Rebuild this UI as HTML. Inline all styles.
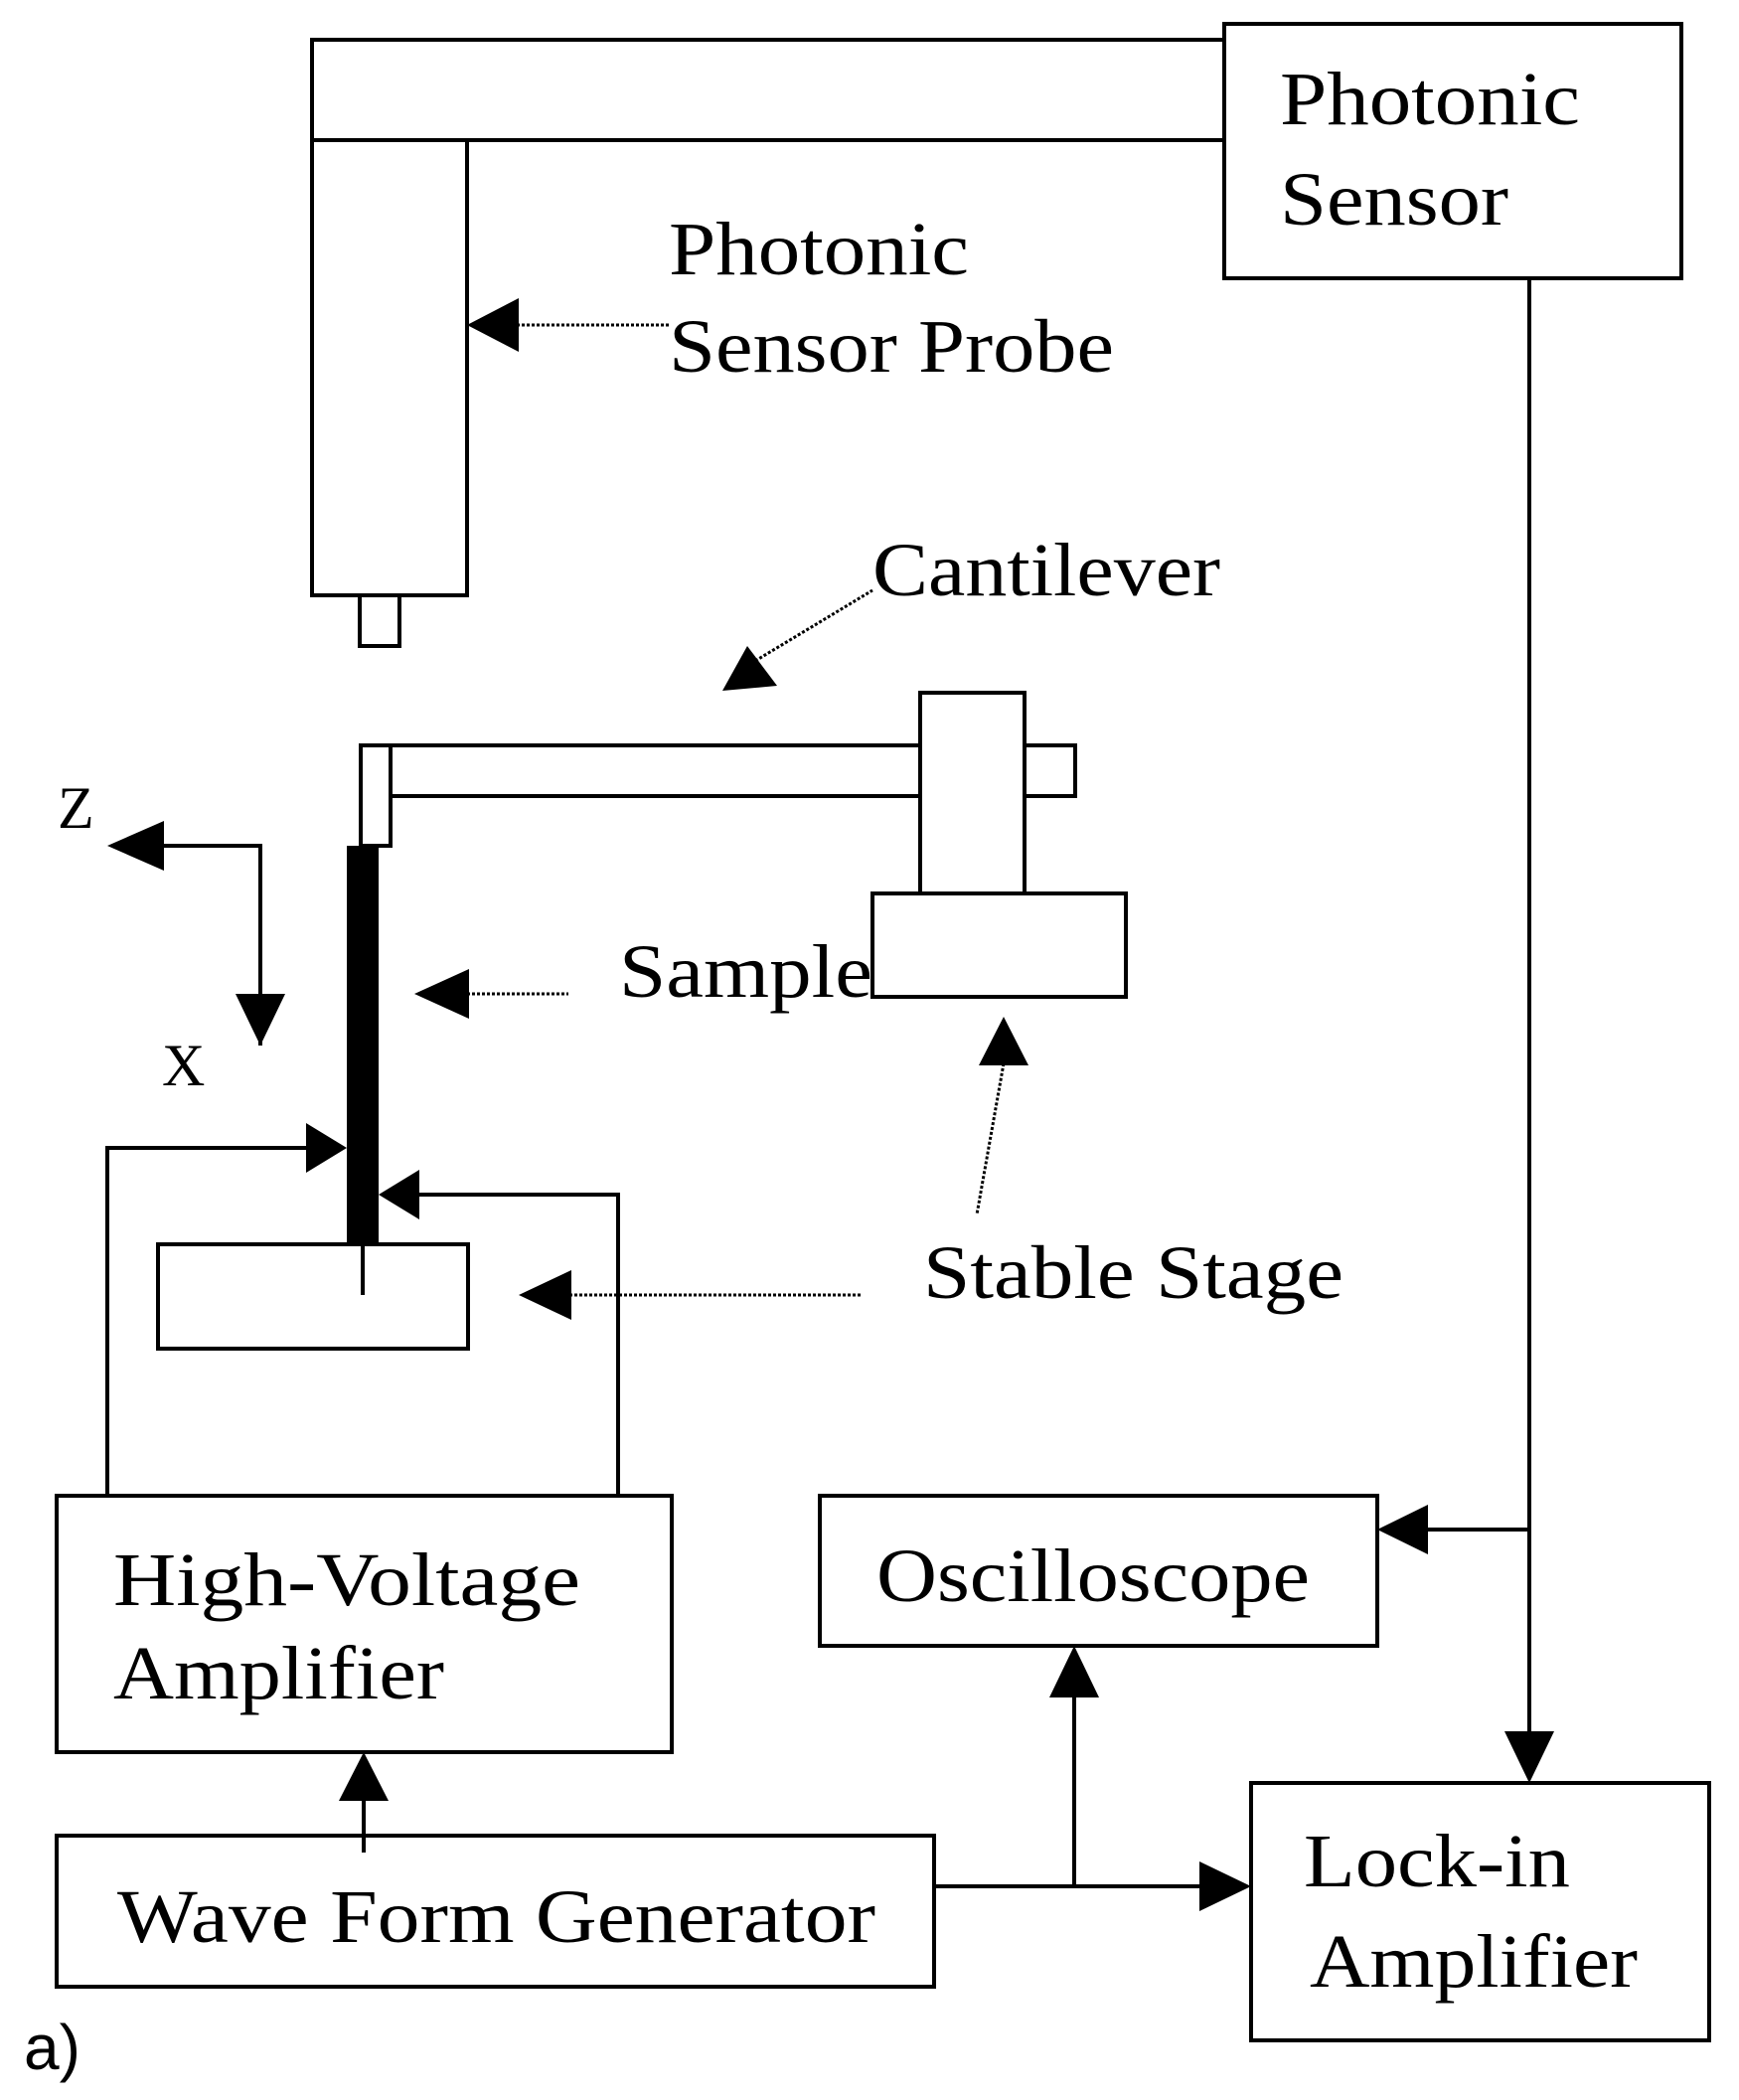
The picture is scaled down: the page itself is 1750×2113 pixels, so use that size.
<!DOCTYPE html>
<html><head><meta charset="utf-8"><style>html,body{margin:0;padding:0;background:#fff}svg{display:block}</style></head>
<body>
<svg width="1750" height="2113" viewBox="0 0 1750 2113" xmlns="http://www.w3.org/2000/svg">
<defs>
<marker id="a" viewBox="0 0 10 10" refX="10" refY="5" markerWidth="10" markerHeight="10" markerUnits="userSpaceOnUse" orient="auto"><path d="M0,0 L10,5 L0,10 z" fill="#000"/></marker>
</defs>
<g fill="none" stroke="#000" stroke-width="4">
<rect x="314" y="40" width="918" height="101"/>
<rect x="1232" y="24" width="460" height="256" fill="#fff"/>
<rect x="314" y="141" width="156" height="458"/>
<rect x="362" y="599" width="40" height="51"/>
<rect x="363" y="750" width="30" height="101"/>
<rect x="393" y="750" width="533" height="51"/>
<rect x="926" y="697" width="105" height="202"/>
<rect x="1031" y="750" width="51" height="51"/>
<rect x="878" y="899" width="255" height="104"/>
<rect x="159" y="1252" width="312" height="105"/>
<rect x="57" y="1505" width="619" height="258"/>
<rect x="57" y="1847" width="883" height="152"/>
<rect x="825" y="1505" width="561" height="151"/>
<rect x="1259" y="1794" width="461" height="259"/>
</g>
<rect x="349" y="851" width="32" height="401" fill="#000"/>
<line x1="365" y1="1252" x2="365" y2="1303" stroke="#000" stroke-width="4"/>
<g fill="#000">
<!-- probe arrow -->
<path d="M470,327 L522,300 L522,354 z"/>
<!-- cantilever arrow -->
<path d="M727,695 L752,650 L782,690 z"/>
<!-- sample arrow -->
<path d="M417,1000 L472,975 L472,1025 z"/>
<!-- stable stage arrows -->
<path d="M1010,1023 L985,1072 L1035,1072 z"/>
<path d="M522,1303 L575,1278 L575,1328 z"/>
<!-- Z X -->
<path d="M108,851 L165,826 L165,876 z"/>
<path d="M262,1052 L237,1000 L287,1000 z"/>
<!-- sample side arrows -->
<path d="M349,1155 L308,1130 L308,1180 z"/>
<path d="M381,1202 L422,1177 L422,1227 z"/>
<!-- wave -> HV -->
<path d="M366,1763 L341,1812 L391,1812 z"/>
<!-- osc -->
<path d="M1386,1539 L1437,1514 L1437,1564 z"/>
<path d="M1081,1656 L1056,1708 L1106,1708 z"/>
<!-- lock-in -->
<path d="M1539,1794 L1514,1742 L1564,1742 z"/>
<path d="M1259,1898 L1207,1873 L1207,1923 z"/>
</g>
<g stroke="#000" stroke-width="3" stroke-dasharray="3,2" fill="none">
<line x1="520" y1="327" x2="673" y2="327"/>
<line x1="760" y1="665" x2="878" y2="594"/>
<line x1="470" y1="1000" x2="572" y2="1000"/>
<line x1="1010" y1="1070" x2="983" y2="1222"/>
<line x1="573" y1="1303" x2="868" y2="1303"/>
</g>
<g stroke="#000" stroke-width="4" fill="none">
<polyline points="262,1052 262,851 160,851"/>
<polyline points="108,1505 108,1155 310,1155"/>
<polyline points="622,1505 622,1202 420,1202"/>
<line x1="366" y1="1864" x2="366" y2="1810"/>
<polyline points="1539,280 1539,1745"/>
<line x1="1539" y1="1539" x2="1435" y2="1539"/>
<line x1="940" y1="1898" x2="1210" y2="1898"/>
<line x1="1081" y1="1898" x2="1081" y2="1705"/>
</g>
<g font-family="'Liberation Serif', serif" font-size="76" fill="#000">
<text x="1288" y="125" textLength="302" lengthAdjust="spacingAndGlyphs">Photonic</text>
<text x="1288" y="226" textLength="230" lengthAdjust="spacingAndGlyphs">Sensor</text>
<text x="673" y="276" textLength="302" lengthAdjust="spacingAndGlyphs">Photonic</text>
<text x="673" y="374" textLength="448" lengthAdjust="spacingAndGlyphs">Sensor Probe</text>
<text x="878" y="599" textLength="350" lengthAdjust="spacingAndGlyphs">Cantilever</text>
<text x="623" y="1003" textLength="255" lengthAdjust="spacingAndGlyphs">Sample</text>
<text x="929" y="1306" textLength="423" lengthAdjust="spacingAndGlyphs">Stable Stage</text>
<text x="58" y="833" font-size="60">Z</text>
<text x="163" y="1092" font-size="60">X</text>
<text x="114" y="1615" textLength="470" lengthAdjust="spacingAndGlyphs">High-Voltage</text>
<text x="114" y="1709" textLength="333" lengthAdjust="spacingAndGlyphs">Amplifier</text>
<text x="118" y="1954" textLength="763" lengthAdjust="spacingAndGlyphs">Wave Form Generator</text>
<text x="882" y="1611" textLength="436" lengthAdjust="spacingAndGlyphs">Oscilloscope</text>
<text x="1312" y="1898" textLength="268" lengthAdjust="spacingAndGlyphs">Lock-in</text>
<text x="1318" y="1999" textLength="330" lengthAdjust="spacingAndGlyphs">Amplifier</text>
</g>
<text x="24" y="2082" font-family="'Liberation Sans', sans-serif" font-size="64" fill="#000">a)</text>
</svg>
</body></html>
